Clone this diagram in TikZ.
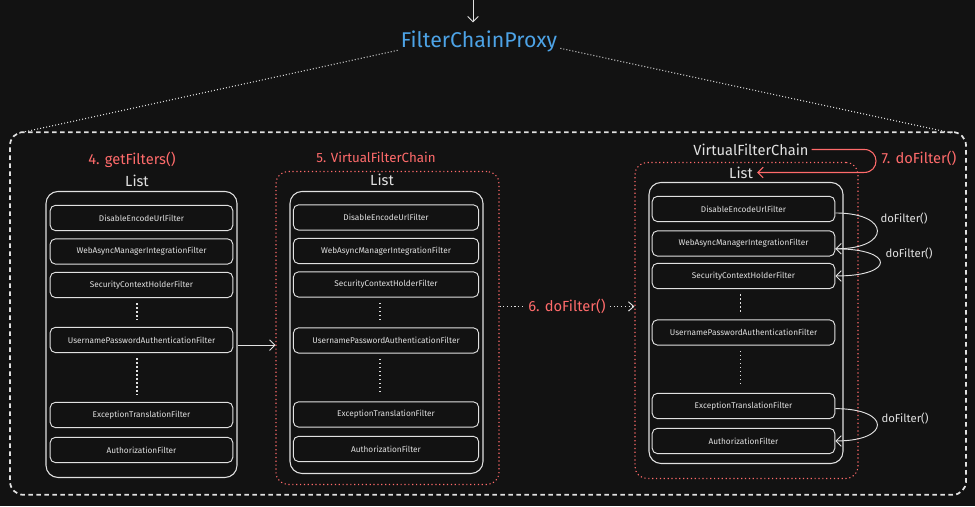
\documentclass[tikz,border=0pt]{standalone}
\usepackage{fontspec}
\setmainfont{Fira Sans}
\usetikzlibrary{arrows.meta}
\definecolor{bgdark}{RGB}{18,18,18}
\definecolor{inkwhite}{RGB}{225,225,225}
\definecolor{inkred}{RGB}{255,107,107}
\definecolor{inkblue}{RGB}{77,163,230}

\begin{document}
\begin{tikzpicture}[x=0.75pt,y=0.75pt,yscale=-1,xscale=1,
  filterbox/.style={draw=inkwhite, line width=0.7pt, rounded corners=4pt, minimum height=19pt, inner sep=0pt, text=inkwhite, font=\fontsize{6.2}{7}\selectfont},
  listbox/.style={draw=inkwhite, line width=0.8pt, rounded corners=9pt, inner sep=0pt},
  chainbox/.style={draw=inkred, line width=0.8pt, dash pattern=on 0.9pt off 2pt, rounded corners=9pt, inner sep=0pt},
  outerbox/.style={draw=inkwhite, line width=1.3pt, dash pattern=on 3.5pt off 2.5pt, rounded corners=10pt, inner sep=0pt},
  redlabel/.style={text=inkred, inner sep=0pt, font=\fontsize{11}{13}\selectfont},
  whitelabel/.style={text=inkwhite, inner sep=0pt, font=\fontsize{11}{13}\selectfont},
  smalllabel/.style={text=inkwhite, inner sep=0pt, font=\fontsize{8.5}{10}\selectfont},
  vdots/.style={draw=inkwhite, line width=0.8pt, dash pattern=on 0.8pt off 2.2pt, shorten <=4pt, shorten >=5pt},
  sketcharrow/.style={draw=inkwhite, line width=0.7pt, -{Straight Barb[length=4pt,width=8pt]}},
  dotarrow/.style={draw=inkwhite, line width=0.7pt, dash pattern=on 0.8pt off 2pt, -{Straight Barb[length=4pt,width=7pt]}},
  redarrow/.style={draw=inkred, line width=0.8pt, -{Straight Barb[length=4pt,width=8pt]}},
  fanline/.style={draw=inkwhite, line width=0.8pt, dash pattern=on 0.7pt off 1.6pt},
]
%set diagram size 975 x 506
\fill[bgdark] (0,0) rectangle (975,506);

%Text Node: proxy
\coordinate (entry) at (473,0);
\node[text=inkblue, inner sep=0pt, font=\fontsize{16}{18}\selectfont] (proxy) at (479,41) {FilterChainProxy};
\draw[sketcharrow] (entry) -- (entry |- 0,22);

%Shape: Rectangle outer dashed
\node[outerbox, minimum width=717pt, minimum height=272pt] (outer) at (488,313) {};
\draw[fanline] ([shift={(-3,-2)}]proxy.south west) -- ([shift={(9,2)}]outer.north west);
\draw[fanline] ([shift={(3,-4)}]proxy.south east) -- ([shift={(-14,2)}]outer.north east);

%% left : getFilters
\node[redlabel] (getf) at (132,159) {4. getFilters()};
\node[whitelabel] (list1) at (137,180) {List};
\node[listbox, minimum width=143.25pt, minimum height=214.5pt] (lst1) at (141.5,334) {};
\node[filterbox, minimum width=137pt] (l1) at (141.5,217.5) {DisableEncodeUrlFilter};
\node[filterbox, minimum width=137pt] (l2) at (141.5,251) {WebAsyncManagerIntegrationFilter};
\node[filterbox, minimum width=137pt] (l3) at (141.5,284.5) {SecurityContextHolderFilter};
\node[filterbox, minimum width=137pt] (l4) at (141.5,339.5) {UsernamePasswordAuthenticationFilter};
\node[filterbox, minimum width=137pt] (l5) at (141.5,414.5) {ExceptionTranslationFilter};
\node[filterbox, minimum width=137pt] (l6) at (141.5,449.5) {AuthorizationFilter};
\draw[vdots] ([xshift=-3.4pt]l3.south) -- ([xshift=-3.4pt]l4.north);
\draw[vdots] ([xshift=-3.4pt]l4.south) -- ([xshift=-3.4pt]l5.north);

%% middle : VirtualFilterChain
\node[redlabel, font=\fontsize{10}{12}\selectfont] (vchain) at (376,157) {5. VirtualFilterChain};
\node[chainbox, minimum width=167.25pt, minimum height=234.75pt] (vc1) at (387.5,327.5) {};
\node[whitelabel] (list2) at (382,179) {List};
\node[listbox, minimum width=144.75pt, minimum height=211.5pt] (lst2) at (386.5,332) {};
\node[filterbox, minimum width=139pt] (m1) at (386,217) {DisableEncodeUrlFilter};
\node[filterbox, minimum width=139pt] (m2) at (386,250.5) {WebAsyncManagerIntegrationFilter};
\node[filterbox, minimum width=139pt] (m3) at (386,284) {SecurityContextHolderFilter};
\node[filterbox, minimum width=139pt] (m4) at (386,340) {UsernamePasswordAuthenticationFilter};
\node[filterbox, minimum width=139pt] (m5) at (386,414) {ExceptionTranslationFilter};
\node[filterbox, minimum width=139pt] (m6) at (386,448.5) {AuthorizationFilter};
\draw[vdots] ([xshift=-4.5pt]m3.south) -- ([xshift=-4.5pt]m4.north);
\draw[vdots] ([xshift=-4.5pt]m4.south) -- ([xshift=-4.5pt]m5.north);

\draw[sketcharrow] ([yshift=8pt]lst1.east) -- ([yshift=8pt]lst1.east -| vc1.west);

%% right : doFilter chain
\node[redlabel] (dofil) at (567,306) {6. doFilter()};
\node[chainbox, minimum width=167.25pt, minimum height=237pt] (vc2) at (746.5,320) {};
\draw[draw=inkwhite, line width=0.7pt, dash pattern=on 0.8pt off 2pt] (dofil.west -| vc1.east) -- ([xshift=-3pt]dofil.west);
\draw[dotarrow] ([xshift=3pt]dofil.east) -- (dofil.east -| vc2.west);

\node[whitelabel] (vfc) at (751,149) {VirtualFilterChain};
\node[redlabel] (dofseven) at (919,158) {7. doFilter()};
\node[whitelabel] (list3) at (741,172) {List};
\coordinate (turn) at (864,172);
\draw[redarrow] ([xshift=2pt]vfc.east) -- (vfc.east -| turn) .. controls +(16,0) and +(16,0) .. (turn) -- ([xshift=3pt]list3.east);

\node[listbox, minimum width=145.5pt, minimum height=210.75pt] (lst3) at (746,322.5) {};
\node[filterbox, minimum width=137pt] (r1) at (743.5,208.5) {DisableEncodeUrlFilter};
\node[filterbox, minimum width=137pt] (r2) at (743.5,243) {WebAsyncManagerIntegrationFilter};
\node[filterbox, minimum width=137pt] (r3) at (743.5,275.5) {SecurityContextHolderFilter};
\node[filterbox, minimum width=137pt] (r4) at (743.5,332) {UsernamePasswordAuthenticationFilter};
\node[filterbox, minimum width=137pt] (r5) at (743.5,405.5) {ExceptionTranslationFilter};
\node[filterbox, minimum width=137pt] (r6) at (743.5,440.5) {AuthorizationFilter};
\draw[vdots] ([xshift=-2.6pt]r3.south) -- ([xshift=-2.6pt]r4.north);
\draw[vdots] ([xshift=-2.6pt]r4.south) -- ([xshift=-2.6pt]r5.north);

%loops
\draw[sketcharrow] ([yshift=3pt]r1.east) .. controls +(56,0) and +(56,0) .. ([yshift=4pt]r2.east);
\draw[sketcharrow] ([yshift=4pt]r2.east) .. controls +(60,0) and +(60,0) .. (r3.east);
\draw[sketcharrow] ([yshift=2pt]r5.east) .. controls +(56,0) and +(56,0) .. (r6.east);
\node[smalllabel] (dfa) at (904,218) {doFilter()};
\node[smalllabel] (dfb) at (909,253) {doFilter()};
\node[smalllabel] (dfc) at (905,418) {doFilter()};

\end{tikzpicture}
\end{document}
